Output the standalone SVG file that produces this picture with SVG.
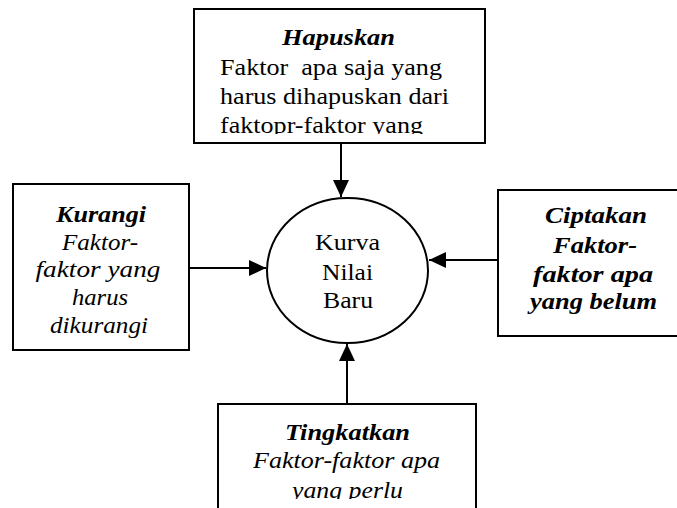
<svg xmlns="http://www.w3.org/2000/svg" width="677" height="508" viewBox="0 0 677 508" font-family="'Liberation Serif', 'Times New Roman', Times, 'DejaVu Serif', Tinos, 'Noto Serif', serif">
  <style>
    .box { fill: #fff; stroke: #000; stroke-width: 2; }
    .conn { stroke: #000; stroke-width: 2; fill: none; }
    .t { font-size: 23px; fill: #000; }
    .c { text-anchor: middle; }
    .bi { font-weight: bold; font-style: italic; }
    .i { font-style: italic; }
  </style>
  <defs>
    <marker id="arrow" viewBox="0 0 17 16" refX="17" refY="8" markerWidth="17" markerHeight="16" markerUnits="userSpaceOnUse" orient="auto">
      <path d="M0,0 L17,8 L0,16 z" fill="#000"/>
    </marker>
    <clipPath id="clipTop"><rect x="194" y="9" width="291" height="125"/></clipPath>
    <clipPath id="clipBottom"><rect x="218" y="404" width="258" height="95"/></clipPath>
  </defs>
  <rect width="677" height="508" fill="#fff"/>

  <g id="connectors">
    <line class="conn" x1="341" y1="143" x2="341" y2="197" marker-end="url(#arrow)"/>
    <line class="conn" x1="189" y1="268" x2="266" y2="268" marker-end="url(#arrow)"/>
    <line class="conn" x1="498" y1="260" x2="429" y2="260" marker-end="url(#arrow)"/>
    <line class="conn" x1="347" y1="404" x2="347" y2="344" marker-end="url(#arrow)"/>
  </g>

  <g id="hapuskan">
    <rect class="box" x="194" y="9" width="291" height="134"/>
    <g clip-path="url(#clipTop)">
      <text class="t c bi" x="338.5" y="45" textLength="113" lengthAdjust="spacingAndGlyphs">Hapuskan</text>
      <text class="t" x="220" y="75" textLength="222" lengthAdjust="spacingAndGlyphs" xml:space="preserve">Faktor  apa saja yang</text>
      <text class="t" x="220" y="104" textLength="229" lengthAdjust="spacingAndGlyphs">harus dihapuskan dari</text>
      <text class="t" x="220" y="133" textLength="203" lengthAdjust="spacingAndGlyphs">faktopr-faktor yang</text>
    </g>
  </g>

  <g id="kurangi">
    <rect class="box" x="13" y="184" width="176" height="166"/>
    <text class="t c bi" x="101" y="222" textLength="90" lengthAdjust="spacingAndGlyphs">Kurangi</text>
    <text class="t c i" x="100" y="250" textLength="76" lengthAdjust="spacingAndGlyphs">Faktor-</text>
    <text class="t c i" x="98" y="277" textLength="125" lengthAdjust="spacingAndGlyphs">faktor yang</text>
    <text class="t c i" x="100" y="305" textLength="56" lengthAdjust="spacingAndGlyphs">harus</text>
    <text class="t c i" x="99" y="333" textLength="98" lengthAdjust="spacingAndGlyphs">dikurangi</text>
  </g>

  <g id="kurva">
    <ellipse class="box" cx="347.5" cy="270.5" rx="80.5" ry="72.5"/>
    <text class="t c" x="347.5" y="250" textLength="65" lengthAdjust="spacingAndGlyphs">Kurva</text>
    <text class="t c" x="347.5" y="280" textLength="51" lengthAdjust="spacingAndGlyphs">Nilai</text>
    <text class="t c" x="348" y="308" textLength="50" lengthAdjust="spacingAndGlyphs">Baru</text>
  </g>

  <g id="ciptakan">
    <rect class="box" x="498" y="190" width="200" height="146"/>
    <text class="t c bi" x="596" y="223" textLength="102" lengthAdjust="spacingAndGlyphs">Ciptakan</text>
    <text class="t c bi" x="595" y="253" textLength="84" lengthAdjust="spacingAndGlyphs">Faktor-</text>
    <text class="t c bi" x="593" y="282" textLength="120" lengthAdjust="spacingAndGlyphs">faktor apa</text>
    <text class="t c bi" x="593.5" y="309" textLength="127" lengthAdjust="spacingAndGlyphs">yang belum</text>
  </g>

  <g id="tingkatkan">
    <rect class="box" x="218" y="404" width="258" height="120"/>
    <g clip-path="url(#clipBottom)">
      <text class="t c bi" x="347.5" y="440" textLength="125" lengthAdjust="spacingAndGlyphs">Tingkatkan</text>
      <text class="t c i" x="346.5" y="468" textLength="187" lengthAdjust="spacingAndGlyphs">Faktor-faktor apa</text>
      <text class="t c i" x="347.5" y="498" textLength="111" lengthAdjust="spacingAndGlyphs">yang perlu</text>
    </g>
  </g>
</svg>
